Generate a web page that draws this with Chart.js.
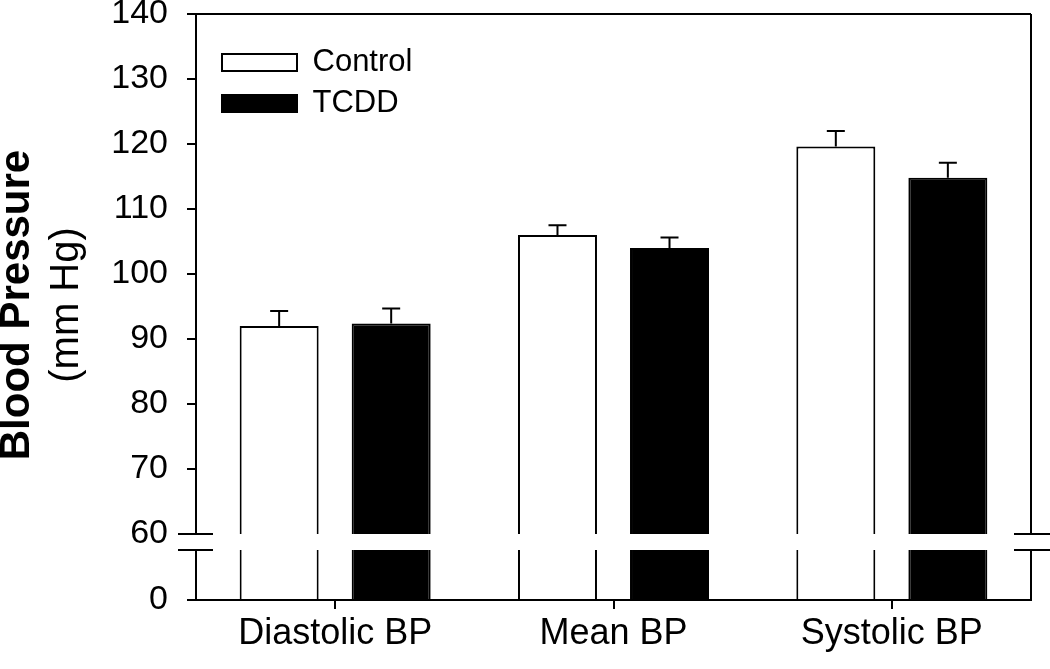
<!DOCTYPE html>
<html>
<head>
<meta charset="utf-8">
<script src="https://cdn.jsdelivr.net/npm/chart.js"></script>
<style>
  body { margin: 0; background: #fff; }
</style>
</head>
<body>
<canvas id="grafico" width="1050" height="669"></canvas>
<script>
// dados
const categorias = ['Diastolic BP', 'Mean BP', 'Systolic BP'];
const controle = [92.0, 106.0, 119.6];
const controleErro = [2.3, 1.5, 2.4];
const tcdd = [92.4, 104.0, 114.8];
const tcddErro = [2.3, 1.6, 2.3];
const ticksSuperior = [60, 70, 80, 90, 100, 110, 120, 130, 140];
const ticksInferior = [0];
const faixaInferior = [0, 10];

Chart.defaults.font.family = "'Liberation Sans', Arial, sans-serif";
Chart.defaults.color = '#000';

const LARGURA_EIXO = 87;

function eixoY(min, max, lista, peso) {
  return {
    type: 'linear',
    position: 'left',
    stack: 'bp',
    stackWeight: peso,
    stacked: false,
    min: min,
    max: max,
    afterBuildTicks: (s) => { s.ticks = lista.map(v => ({ value: v })); },
    afterFit: (s) => {
      s.width = LARGURA_EIXO;
      s.paddingTop = 0; // senao o ticks.padding empurra a area do grafico pra baixo
      s.paddingBottom = 0;
    },
    grid: { drawOnChartArea: false, tickLength: 9, color: '#000', lineWidth: 2 },
    border: { color: '#000', width: 2 },
    ticks: { font: { size: 34 }, padding: 19, color: '#000', autoSkip: false }
  };
}

// barras de erro (so para cima)
const barrasErro = {
  id: 'barrasErro',
  afterDatasetsDraw(chart) {
    const ctx = chart.ctx;
    const erros = [controleErro, tcddErro];
    const y = chart.scales.y;
    ctx.save();
    ctx.strokeStyle = '#000';
    ctx.lineWidth = 2;
    [0, 1].forEach(d => {
      const meta = chart.getDatasetMeta(d);
      meta.data.forEach((bar, i) => {
        const v = chart.data.datasets[d].data[i];
        const topo = y.getPixelForValue(v + erros[d][i]);
        ctx.beginPath();
        ctx.moveTo(bar.x, bar.y);
        ctx.lineTo(bar.x, topo);
        ctx.moveTo(bar.x - 9, topo);
        ctx.lineTo(bar.x + 9, topo);
        ctx.stroke();
      });
    });
    ctx.restore();
  }
};

// moldura, quebra do eixo e titulo do eixo y
const moldura = {
  id: 'moldura',
  afterLayout(chart) {
    // legenda dentro da area do grafico, canto superior esquerdo
    chart.legend.left = chart.chartArea.left + 16;
    chart.legend.top = chart.chartArea.top + 23;
  },
  afterDraw(chart) {
    const ctx = chart.ctx;
    const a = chart.chartArea;
    const y = chart.scales.y;
    const y2 = chart.scales.y2;
    ctx.save();
    ctx.strokeStyle = '#000';
    ctx.lineWidth = 2;
    ctx.beginPath();
    ctx.moveTo(a.left, a.top);
    ctx.lineTo(a.right, a.top);
    ctx.moveTo(a.right, a.top);
    ctx.lineTo(a.right, y.bottom);
    ctx.moveTo(a.right, y2.top);
    ctx.lineTo(a.right, y2.bottom);
    [y.bottom, y2.top].forEach(p => {
      ctx.moveTo(a.left - 18, p);
      ctx.lineTo(a.left + 17, p);
      ctx.moveTo(a.right - 17, p);
      ctx.lineTo(a.right + 19, p);
    });
    ctx.stroke();

    ctx.fillStyle = '#000';
    ctx.textAlign = 'center';
    ctx.textBaseline = 'middle';
    ctx.translate(17, 305);
    ctx.rotate(-Math.PI / 2);
    ctx.font = "bold 42px 'Liberation Sans', Arial, sans-serif";
    ctx.fillText('Blood Pressure', 0, 0);
    ctx.font = "40px 'Liberation Sans', Arial, sans-serif";
    ctx.fillText('(mm Hg)', 0, 50);
    ctx.restore();
  }
};

function serie(rotulo, dados, cor, eixo, pilha) {
  return {
    label: rotulo,
    data: dados,
    backgroundColor: cor,
    borderColor: '#000',
    borderWidth: 2,
    yAxisID: eixo,
    stack: pilha,
    clip: 0,
    categoryPercentage: 0.805,
    barPercentage: 0.705
  };
}

new Chart(document.getElementById('grafico'), {
  type: 'bar',
  data: {
    labels: categorias,
    datasets: [
      serie('Control', controle, '#fff', 'y', 'c'),
      serie('TCDD', tcdd, '#000', 'y', 't'),
      serie('Control', controle, '#fff', 'y2', 'c'),
      serie('TCDD', tcdd, '#000', 'y2', 't')
    ]
  },
  options: {
    responsive: false,
    animation: false,
    layout: { padding: { left: 109, right: 19, top: 14, bottom: 0 } },
    plugins: {
      tooltip: { enabled: false },
      legend: {
        position: 'chartArea',
        align: 'start',
        labels: {
          filter: (item) => item.datasetIndex < 2,
          boxWidth: 75,
          boxHeight: 17,
          padding: 10,
          font: { size: 31 },
          color: '#000'
        }
      }
    },
    scales: {
      x: {
        type: 'category',
        offset: true,
        afterFit: (s) => { s.height = 69; },
        grid: { offset: false, drawOnChartArea: false, tickLength: 9, color: '#000', lineWidth: 2 },
        border: { color: '#000', width: 2 },
        ticks: { font: { size: 36 }, padding: 3, color: '#000' }
      },
      // no layout a pilha da esquerda fica invertida: o ultimo definido vai em cima
      y2: eixoY(faixaInferior[0], faixaInferior[1], ticksInferior, 50),
      yGap: {
        type: 'linear',
        position: 'left',
        stack: 'bp',
        stackWeight: 16,
        afterFit: (s) => { s.width = LARGURA_EIXO; },
        ticks: { display: false },
        grid: { display: false },
        border: { display: false }
      },
      y: eixoY(ticksSuperior[0], ticksSuperior[ticksSuperior.length - 1], ticksSuperior, 520)
    }
  },
  plugins: [barrasErro, moldura]
});
</script>
</body>
</html>
